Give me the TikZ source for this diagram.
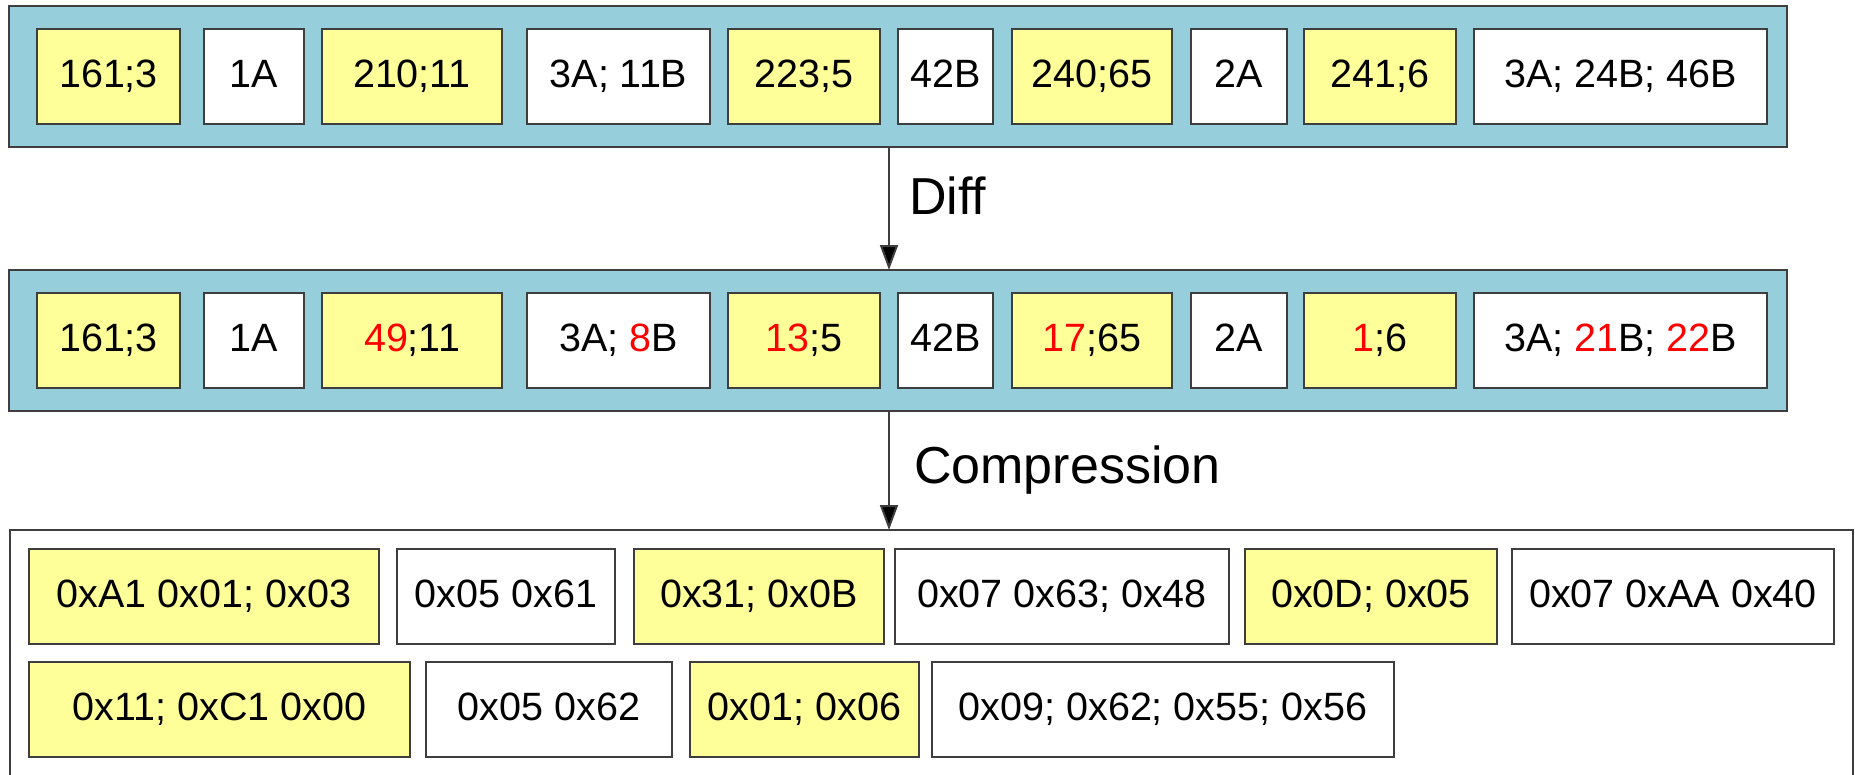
\documentclass[tikz,border=0pt]{standalone}
\usepackage{fontspec}
\setmainfont{Liberation Sans}
\usetikzlibrary{arrows.meta}
\definecolor{panelblue}{RGB}{150,207,219}
\definecolor{cellyellow}{RGB}{255,255,153}
\definecolor{edgegray}{RGB}{62,62,62}
\definecolor{diffred}{RGB}{255,0,0}
\newcommand\rd[1]{\textcolor{diffred}{#1}}
% cell: name, style, left, top, right, bottom, text
\newcommand\cell[7]{\node[#2, anchor=north west, minimum width={#5-#3}, minimum height={#6-#4}] (#1) at (#3,#4) {#7};}
\tikzset{
  panel/.style={draw=edgegray, line width=2pt, fill=panelblue, inner sep=0pt, outer sep=0pt},
  outpanel/.style={draw=edgegray, line width=2pt, fill=white, inner sep=0pt, outer sep=0pt},
  cellbase/.style={draw=edgegray, line width=2pt, inner sep=0pt, outer sep=0pt,
    font=\fontsize{39.5}{47}\selectfont, text height=28.3pt, text depth=6pt},
  ycell/.style={cellbase, fill=cellyellow},
  wcell/.style={cellbase, fill=white},
  steplabel/.style={inner sep=0pt, anchor=base west, font=\fontsize{52}{62}\selectfont},
  flow/.style={draw=edgegray, line width=2pt, -{Triangle[length=25pt, width=18pt, fill=black]}}
}
\begin{document}
\begin{tikzpicture}[x=1pt, y=-1pt]
\useasboundingbox (0,0) rectangle (1855,774);

% source records
\cell{src}{panel}{9}{6}{1787}{147}{}
\cell{s1}{ycell}{37}{29}{180}{124}{161;3}
\cell{s2}{wcell}{204}{29}{304}{124}{1A}
\cell{s3}{ycell}{322}{29}{502}{124}{210;11}
\cell{s4}{wcell}{527}{29}{710}{124}{3A; 11B}
\cell{s5}{ycell}{728}{29}{880}{124}{223;5}
\cell{s6}{wcell}{898}{29}{993}{124}{42B}
\cell{s7}{ycell}{1012}{29}{1172}{124}{240;65}
\cell{s8}{wcell}{1191}{29}{1287}{124}{2A}
\cell{s9}{ycell}{1304}{29}{1456}{124}{241;6}
\cell{s10}{wcell}{1474}{29}{1767}{124}{3A; 24B; 46B}

% delta-encoded records
\cell{dif}{panel}{9}{270}{1787}{411}{}
\cell{d1}{ycell}{37}{293}{180}{388}{161;3}
\cell{d2}{wcell}{204}{293}{304}{388}{1A}
\cell{d3}{ycell}{322}{293}{502}{388}{\rd{49};11}
\cell{d4}{wcell}{527}{293}{710}{388}{3A; \rd{8}B}
\cell{d5}{ycell}{728}{293}{880}{388}{\rd{13};5}
\cell{d6}{wcell}{898}{293}{993}{388}{42B}
\cell{d7}{ycell}{1012}{293}{1172}{388}{\rd{17};65}
\cell{d8}{wcell}{1191}{293}{1287}{388}{2A}
\cell{d9}{ycell}{1304}{293}{1456}{388}{\rd{1};6}
\cell{d10}{wcell}{1474}{293}{1767}{388}{3A; \rd{21}B; \rd{22}B}

% compressed bytes
\cell{cmp}{outpanel}{10}{530}{1853}{800}{}
\cell{c1}{ycell}{29}{549}{379}{644}{0xA1 0x01; 0x03}
\cell{c2}{wcell}{397}{549}{615}{644}{0x05 0x61}
\cell{c3}{ycell}{634}{549}{884}{644}{0x31; 0x0B}
\cell{c4}{wcell}{895}{549}{1229}{644}{0x07 0x63; 0x48}
\cell{c5}{ycell}{1245}{549}{1497}{644}{0x0D; 0x05}
\cell{c6}{wcell}{1512}{549}{1834}{644}{0x07 0xAA 0x40}
\cell{c7}{ycell}{29}{662}{410}{757}{0x11; 0xC1 0x00}
\cell{c8}{wcell}{426}{662}{672}{757}{0x05 0x62}
\cell{c9}{ycell}{690}{662}{919}{757}{0x01; 0x06}
\cell{c10}{wcell}{932}{662}{1394}{757}{0x09; 0x62; 0x55; 0x56}

% processing steps
\coordinate (axis) at (889,0);
\draw[flow] (src.south -| axis) -- (dif.north -| axis);
\draw[flow] (dif.south -| axis) -- (cmp.north -| axis);
\node[steplabel] (lblDiff) at (909,214) {Diff};
\node[steplabel] (lblComp) at (914,483) {Compression};
\end{tikzpicture}
\end{document}
